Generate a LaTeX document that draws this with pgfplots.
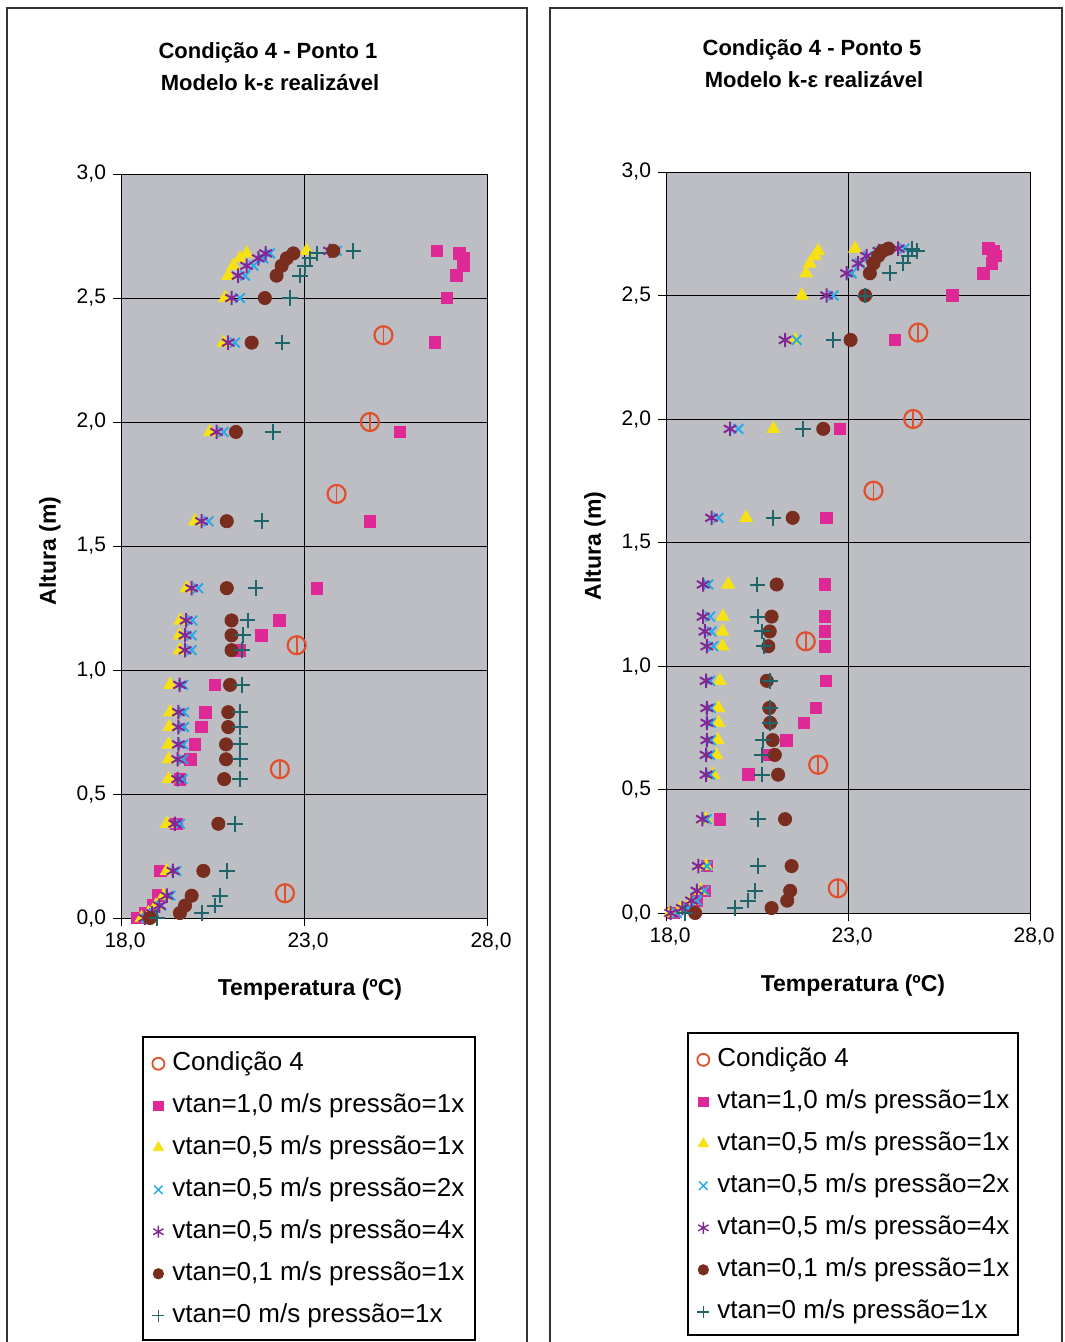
\documentclass[border=0pt]{standalone}
\usepackage{fontspec}
\setmainfont{Liberation Sans}
\usepackage{pgfplots}
\usepackage{pgfplotstable}
\pgfplotsset{compat=1.18}

\definecolor{bg}{RGB}{188,190,196}
\definecolor{cpink}{RGB}{222,40,150}
\definecolor{cyel}{RGB}{245,225,20}
\definecolor{ccyan}{RGB}{40,170,230}
\definecolor{cpur}{RGB}{130,40,150}
\definecolor{cbrn}{RGB}{120,45,30}
\definecolor{cteal}{RGB}{30,100,105}
\definecolor{corg}{RGB}{225,80,45}

% h = altura; p = vtan1.0; y = vtan0.5 1x; c = vtan0.5 2x; s = vtan0.5 4x; b = vtan0.1; t = vtan0
\pgfplotstableread{
h    p     y     c     s     b     t
0.00 18.45 18.56 18.70 18.65 18.79 18.98
0.02 18.65 18.75 18.90 18.85 19.61 20.20
0.05 18.87 18.95 19.10 19.05 19.75 20.57
0.09 19.02 19.16 19.35 19.25 19.93 20.70
0.19 19.07 19.25 19.51 19.42 20.25 20.90
0.38 19.52 19.25 19.61 19.47 20.66 21.11
0.56 19.61 19.30 19.68 19.55 20.82 21.25
0.64 19.89 19.30 19.70 19.55 20.87 21.25
0.70 20.02 19.30 19.70 19.57 20.87 21.25
0.77 20.20 19.32 19.72 19.57 20.93 21.25
0.83 20.30 19.34 19.72 19.57 20.93 21.25
0.94 20.57 19.34 19.70 19.60 20.98 21.30
1.08 21.25 19.60 19.93 19.75 21.02 21.30
1.14 21.84 19.60 19.93 19.75 21.02 21.34
1.20 22.33 19.62 19.95 19.78 21.02 21.46
1.33 23.35 19.79 20.11 19.93 20.89 21.68
1.60 24.80 20.02 20.39 20.20 20.89 21.84
1.96 25.62 20.43 20.80 20.61 21.14 22.16
2.32 26.58 20.80 21.11 20.93 21.57 22.41
2.50 26.90 20.84 21.25 21.02 21.93 22.62
2.59 27.17 20.93 21.39 21.20 22.25 22.89
2.63 27.35 21.07 21.62 21.43 22.39 23.03
2.66 27.35 21.25 21.89 21.75 22.53 23.16
2.68 27.25 21.43 22.07 21.95 22.71 23.35
2.69 26.63 23.07 23.90 23.70 23.80 24.35
}\tabA

\pgfplotstableread{
h    p     y     c     s     b     t
0.00 18.20 18.11 18.30 18.13 18.80 18.52
0.02 18.55 18.40 18.60 18.45 20.90 19.90
0.05 18.85 18.70 18.85 18.70 21.33 20.26
0.09 19.07 18.95 19.05 18.85 21.41 20.45
0.19 19.12 19.10 19.12 18.89 21.45 20.52
0.38 19.48 19.10 19.12 19.00 21.27 20.52
0.56 20.26 19.30 19.21 19.10 21.08 20.63
0.64 20.81 19.38 19.21 19.10 20.99 20.64
0.70 21.30 19.42 19.23 19.12 20.93 20.67
0.77 21.79 19.44 19.23 19.12 20.86 20.86
0.83 22.12 19.44 19.23 19.12 20.84 20.86
0.94 22.39 19.48 19.21 19.10 20.77 20.86
1.08 22.37 19.55 19.30 19.12 20.81 20.70
1.14 22.37 19.55 19.25 19.07 20.85 20.63
1.20 22.37 19.56 19.21 19.02 20.90 20.52
1.33 22.37 19.71 19.16 19.02 21.04 20.51
1.60 22.41 20.20 19.44 19.25 21.48 20.95
1.96 22.78 20.95 19.99 19.76 22.32 21.77
2.32 24.29 21.54 21.59 21.27 23.07 22.60
2.50 25.87 21.73 22.60 22.41 23.47 23.47
2.59 26.72 21.85 23.10 22.96 23.60 24.14
2.63 26.95 21.95 23.33 23.28 23.70 24.52
2.66 27.05 22.09 23.56 23.51 23.83 24.66
2.68 27.00 22.18 23.90 23.85 23.95 24.89
2.69 26.85 23.19 24.55 24.38 24.11 24.75
}\tabB

\pgfplotstableread{
h    m
0.10 22.48
0.60 22.34
1.10 22.80
1.71 23.89
2.00 24.80
2.35 25.17
}\condA

\pgfplotstableread{
h    m
0.10 22.72
0.60 22.18
1.10 21.84
1.71 23.70
2.00 24.79
2.35 24.93
}\condB

\pgfplotsset{
  panel/.style={
    scale only axis,
    xmin=18, xmax=28, ymin=0, ymax=3,
    xtick={18,23,28}, ytick={0,0.5,1,1.5,2,2.5,3},
    grid=major, major grid style={black, line width=0.5pt},
    axis background/.style={fill=bg},
    axis line style={black, line width=0.5pt},
    tick align=outside, tick pos=left, major tick length=4pt,
    tick style={black, line width=0.5pt},
    xticklabel style={font=\fontsize{10.5}{12}\selectfont, xshift=2pt},
    yticklabel style={font=\fontsize{10.5}{12}\selectfont},
    /pgf/number format/fixed,
    /pgf/number format/fixed zerofill,
    /pgf/number format/precision=1,
    /pgf/number format/use comma,
    /pgf/number format/assume math mode=true,
    clip=false,
    only marks,
    legend cell align=left,
    legend image code/.code={\draw[mark repeat=2,mark phase=2] plot coordinates {(0pt,0pt)(4pt,0pt)(8pt,0pt)};},
    legend style={draw=none, fill=none, inner sep=0pt, anchor=north west,
      font=\fontsize{13}{15}\selectfont, row sep=8.7pt, column sep=4pt,
      nodes={inner sep=0pt, text height=9.3pt, text depth=3pt, anchor=west}},
  },
  sCond/.style={mark=o, mark size=4.5pt, color=corg, line width=1.1pt},
  sBar/.style={mark=|, mark size=4.5pt, color=corg, line width=0.9pt},
  sP/.style={mark=square*, mark size=2.9pt, color=cpink},
  sY/.style={mark=triangle*, mark size=3.7pt, color=cyel},
  sC/.style={mark=x, mark size=3.4pt, color=ccyan, line width=1pt},
  sS/.style={mark=asterisk, mark size=3.6pt, color=cpur, line width=1pt},
  sB/.style={mark=*, mark size=3.3pt, color=cbrn},
  sT/.style={mark=+, mark size=3.9pt, color=cteal, line width=1pt},
}

\newcommand{\legimgs}{%
  \addlegendimage{only marks, mark=o, mark size=3pt, color=corg, line width=0.9pt}
  \addlegendimage{only marks, mark=square*, mark size=2.4pt, color=cpink}
  \addlegendimage{only marks, mark=triangle*, mark size=3pt, color=cyel}
  \addlegendimage{only marks, mark=x, mark size=3pt, color=ccyan, line width=0.7pt}
  \addlegendimage{only marks, mark=asterisk, mark size=3pt, color=cpur, line width=0.7pt}
  \addlegendimage{only marks, mark=*, mark size=2.6pt, color=cbrn}
  \addlegendimage{only marks, mark=+, mark size=3pt, color=cteal, line width=0.7pt}
  \legend{{Condição 4},{vtan=1,0 m/s pressão=1x},{vtan=0,5 m/s pressão=1x},{vtan=0,5 m/s pressão=2x},{vtan=0,5 m/s pressão=4x},{vtan=0,1 m/s pressão=1x},{vtan=0 m/s pressão=1x}}%
}

\begin{document}
\begin{tikzpicture}
\path[use as bounding box] (0,0) rectangle (532pt,-671pt);

% panel frames
\draw[black!80, line width=0.6pt] (3.5pt,-671pt) -- (3.5pt,-4pt) -- (263.5pt,-4pt) -- (263.5pt,-671pt);
\draw[black!80, line width=0.6pt] (275pt,-671pt) -- (275pt,-4pt) -- (531pt,-4pt) -- (531pt,-671pt);

% titles
\node[font=\fontsize{11}{13}\bfseries\selectfont] at (134pt,-26.5pt) {Condição 4 - Ponto 1};
\node[font=\fontsize{11}{13}\bfseries\selectfont] at (135pt,-41.5pt) {Modelo k-ε realizável};
\node[font=\fontsize{11}{13}\bfseries\selectfont] at (406pt,-25pt) {Condição 4 - Ponto 5};
\node[font=\fontsize{11}{13}\bfseries\selectfont] at (407pt,-40pt) {Modelo k-ε realizável};

% axis labels
\node[font=\fontsize{11.5}{13}\bfseries\selectfont, rotate=90] at (25pt,-275.5pt) {Altura (m)};
\node[font=\fontsize{11.5}{13}\bfseries\selectfont, rotate=90] at (297.5pt,-273pt) {Altura (m)};
\node[font=\fontsize{11.5}{13}\bfseries\selectfont] at (155pt,-495pt) {Temperatura (ºC)};
\node[font=\fontsize{11.5}{13}\bfseries\selectfont] at (426.5pt,-493pt) {Temperatura (ºC)};

% legend boxes
\draw[black, line width=0.7pt, fill=white] (71.5pt,-518.5pt) rectangle (237.5pt,-670pt);
\draw[black, line width=0.7pt, fill=white] (344pt,-516.5pt) rectangle (509pt,-667.5pt);

% left panel
\begin{axis}[panel, at={(60.5pt,-459pt)}, anchor=south west, width=183pt, height=372pt,
  legend style={at={(0.0847,-0.1788)}}]
  \legimgs
  \addplot[sCond, forget plot] table[x=m, y=h] {\condA};
  \addplot[sBar, forget plot] table[x=m, y=h] {\condA};
  \addplot[sP, forget plot] table[x=p, y=h] {\tabA};
  \addplot[sY, forget plot] table[x=y, y=h] {\tabA};
  \addplot[sC, forget plot] table[x=c, y=h] {\tabA};
  \addplot[sS, forget plot] table[x=s, y=h] {\tabA};
  \addplot[sB, forget plot] table[x=b, y=h] {\tabA};
  \addplot[sT, forget plot] table[x=t, y=h] {\tabA};
\end{axis}

% right panel
\begin{axis}[panel, at={(333pt,-456.5pt)}, anchor=south west, width=182pt, height=370.5pt,
  legend style={at={(0.085,-0.181)}}]
  \legimgs
  \addplot[sCond, forget plot] table[x=m, y=h] {\condB};
  \addplot[sBar, forget plot] table[x=m, y=h] {\condB};
  \addplot[sP, forget plot] table[x=p, y=h] {\tabB};
  \addplot[sY, forget plot] table[x=y, y=h] {\tabB};
  \addplot[sC, forget plot] table[x=c, y=h] {\tabB};
  \addplot[sS, forget plot] table[x=s, y=h] {\tabB};
  \addplot[sB, forget plot] table[x=b, y=h] {\tabB};
  \addplot[sT, forget plot] table[x=t, y=h] {\tabB};
\end{axis}
\end{tikzpicture}
\end{document}
